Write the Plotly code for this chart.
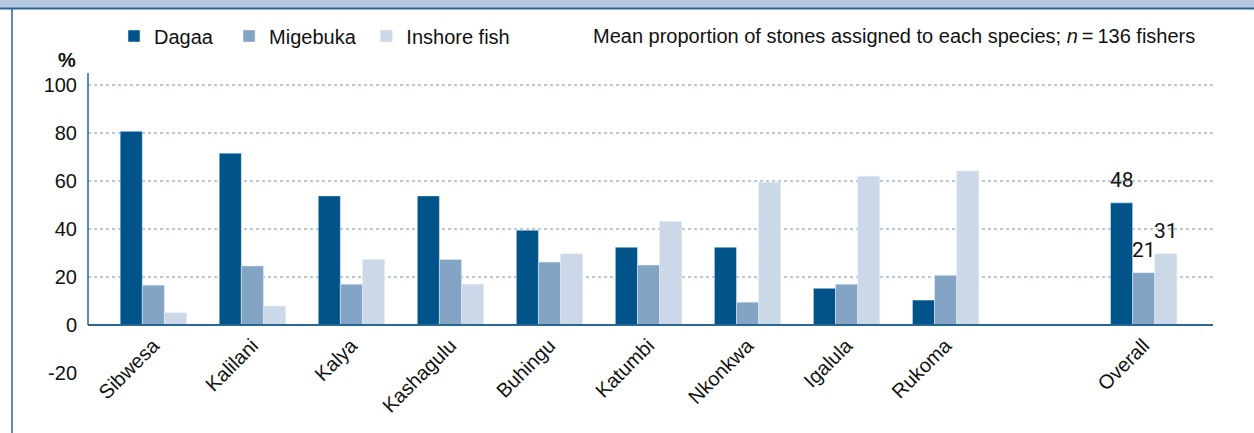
import plotly.graph_objects as go

categories = ["Sibwesa", "Kalilani", "Kalya", "Kashagulu", "Buhingu", "Katumbi",
              "Nkonkwa", "Igalula", "Rukoma", " ", "Overall"]
dagaa = [80.7, 71.6, 53.8, 53.8, 39.5, 32.4, 32.4, 15.3, 10.4, None, 50.9]
migebuka = [16.6, 24.6, 17.0, 27.3, 26.2, 25.0, 9.5, 17.0, 20.7, None, 21.8]
inshore = [5.1, 7.9, 27.3, 17.0, 29.7, 43.1, 59.5, 62.0, 64.2, None, 29.7]
overall_labels = ["48", "21", "31"]
y_ticks = [-20, 0, 20, 40, 60, 80, 100]
grid_ticks = [20, 40, 60, 80, 100]

C_DAGAA = "#00548a"
C_MIG = "#84a4c6"
C_INS = "#cbd8e7"
C_FRAME = "#2a6696"
FONT = "Liberation Sans Narrow, Liberation Sans, Arial, sans-serif"
FS = 20

W, H = 1254, 433
L, R, T, B = 88, 41, 73, 60
pw, ph = W - L - R, H - T - B
ymin, ymax = -20, 105

def px_x(p):
    return (p - L) / pw

def px_y(p):
    return 1 + (T - p) / ph

fig = go.Figure()
nb = "\u00a0"
fig.add_trace(go.Bar(x=categories, y=dagaa, name="Dagaa" + nb * 2, marker_color=C_DAGAA))
fig.add_trace(go.Bar(x=categories, y=migebuka, name="Migebuka" + nb, marker_color=C_MIG))
fig.add_trace(go.Bar(x=categories, y=inshore, name="Inshore fish", marker_color=C_INS))
# invisible trace for the second y axis (tick labels)
fig.add_trace(go.Scatter(x=[categories[0]], y=[None], yaxis="y2", showlegend=False,
                         hoverinfo="skip"))

# overall value labels
for val, lab, shift in zip([dagaa[-1], migebuka[-1], inshore[-1]], overall_labels, [-22, 0, 22]):
    fig.add_annotation(x=categories[-1], y=val, text=lab, showarrow=False,
                       xshift=shift, yshift=9, yanchor="bottom",
                       font=dict(family="Roboto, sans-serif", size=21, color="#111"))

fig.update_layout(
    width=W, height=H,
    margin=dict(l=L, r=R, t=T, b=B, pad=0),
    paper_bgcolor="white", plot_bgcolor="white",
    barmode="group", bargap=0.33, bargroupgap=0,
    font=dict(family=FONT, size=FS, color="#111"),
    showlegend=True,
    legend=dict(orientation="h", x=px_x(114), y=px_y(36), xanchor="left", yanchor="middle",
                font=dict(family=FONT, size=FS, color="#111"), itemwidth=30,
                bgcolor="rgba(0,0,0,0)", traceorder="normal"),
    xaxis=dict(type="category", range=[-0.66, 10.70], anchor="free",
               position=(0 - ymin) / (ymax - ymin),
               showline=True, linecolor=C_FRAME, linewidth=2, ticks="",
               tickangle=-45, showgrid=False, zeroline=False,
               tickfont=dict(family=FONT, size=FS, color="#111")),
    yaxis=dict(range=[ymin, ymax], tickvals=grid_ticks, showticklabels=False,
               showgrid=True, gridcolor="#b9c9e0", griddash="dot", gridwidth=2,
               zeroline=False, showline=False, ticks=""),
    yaxis2=dict(range=[ymin, ymax], overlaying="y", side="left", tickvals=y_ticks,
                ticktext=[str(v) for v in y_ticks], showgrid=False, zeroline=False,
                showline=False, ticks="", ticklabelstandoff=10,
                tickfont=dict(family=FONT, size=FS, color="#111")),
)

# y axis line (only from 0 up)
fig.add_shape(type="line", xref="paper", yref="y", x0=0, x1=0, y0=0, y1=ymax,
              line=dict(color=C_FRAME, width=1.5))
# frame band at top
fig.add_shape(type="rect", xref="paper", yref="paper", x0=px_x(0), x1=px_x(W),
              y0=px_y(8), y1=px_y(0), fillcolor="#b5c8de", line=dict(width=0), layer="below")
fig.add_shape(type="line", xref="paper", yref="paper", x0=px_x(0), x1=px_x(W),
              y0=px_y(8.5), y1=px_y(8.5), line=dict(color=C_FRAME, width=2))
fig.add_shape(type="line", xref="paper", yref="paper", x0=px_x(12), x1=px_x(12),
              y0=px_y(8.5), y1=px_y(H), line=dict(color=C_FRAME, width=1.5))

fig.add_annotation(xref="paper", yref="paper", x=px_x(56), y=px_y(47), text="<b>%</b>",
                   showarrow=False, font=dict(family=FONT, size=FS, color="#111"))
fig.add_annotation(xref="paper", yref="paper", x=px_x(1197), y=px_y(36), xanchor="right",
                   yanchor="middle", showarrow=False,
                   text="Mean proportion of stones assigned to each species; <i>n</i>\u2009=\u2009136 fishers",
                   font=dict(family=FONT, size=FS, color="#111"))

fig.write_html("out.html", config={"displayModeBar": False},
               post_script="document.body.style.margin='0';document.body.style.overflow='hidden';")
